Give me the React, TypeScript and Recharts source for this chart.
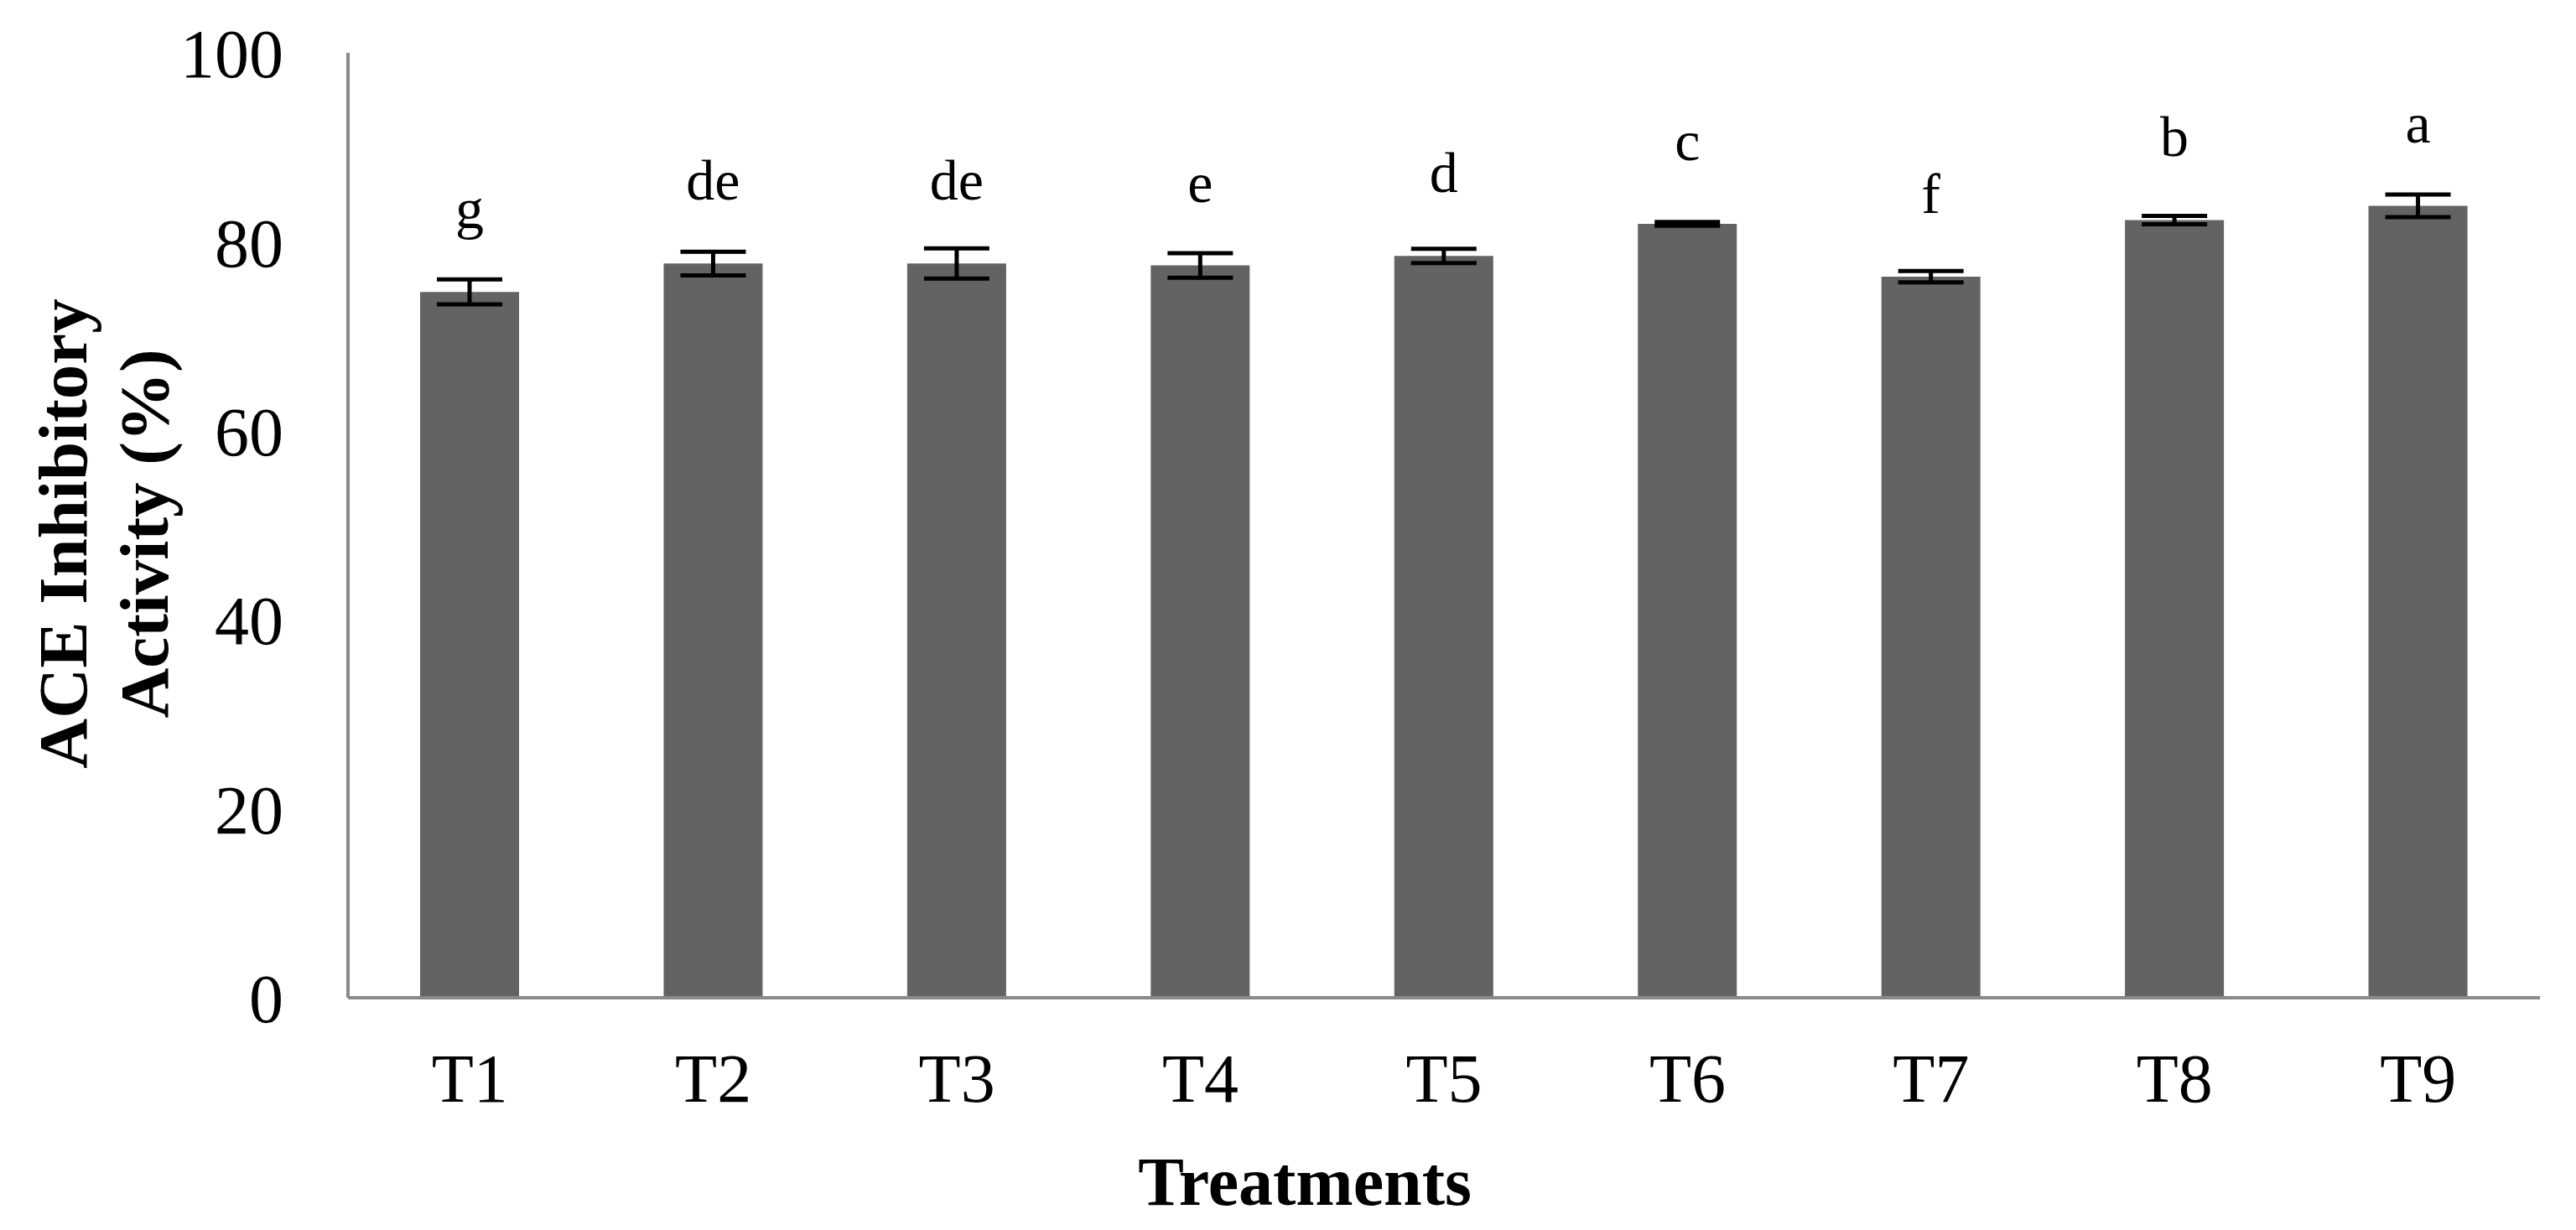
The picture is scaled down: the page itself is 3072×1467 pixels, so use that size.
import React from "react";
import { BarChart, Bar, XAxis, YAxis, ErrorBar, LabelList } from "recharts";

const categories = ["T1", "T2", "T3", "T4", "T5", "T6", "T7", "T8", "T9"];
const activity = [74.7, 77.7, 77.7, 77.5, 78.5, 81.9, 76.3, 82.3, 83.8];
const errors = [1.33, 1.25, 1.6, 1.3, 0.75, 0.2, 0.6, 0.45, 1.2];
const letters = ["g", "de", "de", "e", "d", "c", "f", "b", "a"];
const yTicks = [0, 20, 40, 60, 80, 100];

const data = categories.map((name, i) => ({
  name,
  value: activity[i],
  err: errors[i],
  letter: letters[i],
}));

const FONT = '"Liberation Serif", "Times New Roman", serif';
const AXIS_COLOR = "#898989";

const LetterLabel = (props: any) => {
  const { x, y, width, value } = props;
  return (
    <text
      x={Number(x) + Number(width) / 2}
      y={Number(y) - 76}
      textAnchor="middle"
      fontSize={68}
      fontFamily={FONT}
      fill="#000"
    >
      {value}
    </text>
  );
};

const YTitle = (props: any) => {
  const vb = props.viewBox || { x: 0, y: 63, width: 415, height: 1127 };
  const cy = vb.y + vb.height / 2 + 10;
  const x1 = 103;
  const x2 = 200;
  return (
    <g>
      <text
        x={x1}
        y={cy}
        transform={`rotate(-90 ${x1} ${cy})`}
        textAnchor="middle"
        fontSize={83}
        fontWeight="bold"
        fontFamily={FONT}
        fill="#000"
      >
        ACE Inhibitory
      </text>
      <text
        x={x2}
        y={cy}
        transform={`rotate(-90 ${x2} ${cy})`}
        textAnchor="middle"
        fontSize={83}
        fontWeight="bold"
        fontFamily={FONT}
        fill="#000"
      >
        Activity (%)
      </text>
    </g>
  );
};

const XTitle = (props: any) => {
  const vb = props.viewBox || { x: 415, y: 1190, width: 2614, height: 277 };
  const cx = vb.x + vb.width / 2 - 166;
  return (
    <text
      x={cx}
      y={vb.y + 247}
      textAnchor="middle"
      fontSize={82}
      fontWeight="bold"
      fontFamily={FONT}
      fill="#000"
    >
      Treatments
    </text>
  );
};

export default function App() {
  return (
    <div style={{ width: 3072, height: 1467, background: "#fff" }}>
      <style>{`body{margin:0;background:#fff}`}</style>
      <BarChart
        width={3072}
        height={1467}
        data={data}
        margin={{ top: 63, right: 43, bottom: 0, left: 0 }}
      >
        <XAxis
          dataKey="name"
          height={277}
          tickLine={false}
          tickSize={0}
          tickMargin={66}
          axisLine={{ stroke: AXIS_COLOR, strokeWidth: 4 }}
          tick={{ fontSize: 82, fontFamily: FONT, fill: "#000" }}
          interval={0}
          label={{ content: XTitle }}
        />
        <YAxis
          width={415}
          domain={[0, 100]}
          ticks={yTicks}
          tickLine={false}
          tickSize={0}
          tickMargin={77}
          axisLine={{ stroke: AXIS_COLOR, strokeWidth: 4 }}
          tick={{ fontSize: 82, fontFamily: FONT, fill: "#000" }}
          label={{ content: YTitle }}
        />
        <Bar dataKey="value" fill="#636363" barSize={118} isAnimationActive={false}>
          <ErrorBar dataKey="err" width={39} strokeWidth={5} stroke="#000" direction="y" />
          <LabelList dataKey="letter" content={LetterLabel} />
        </Bar>
      </BarChart>
    </div>
  );
}
